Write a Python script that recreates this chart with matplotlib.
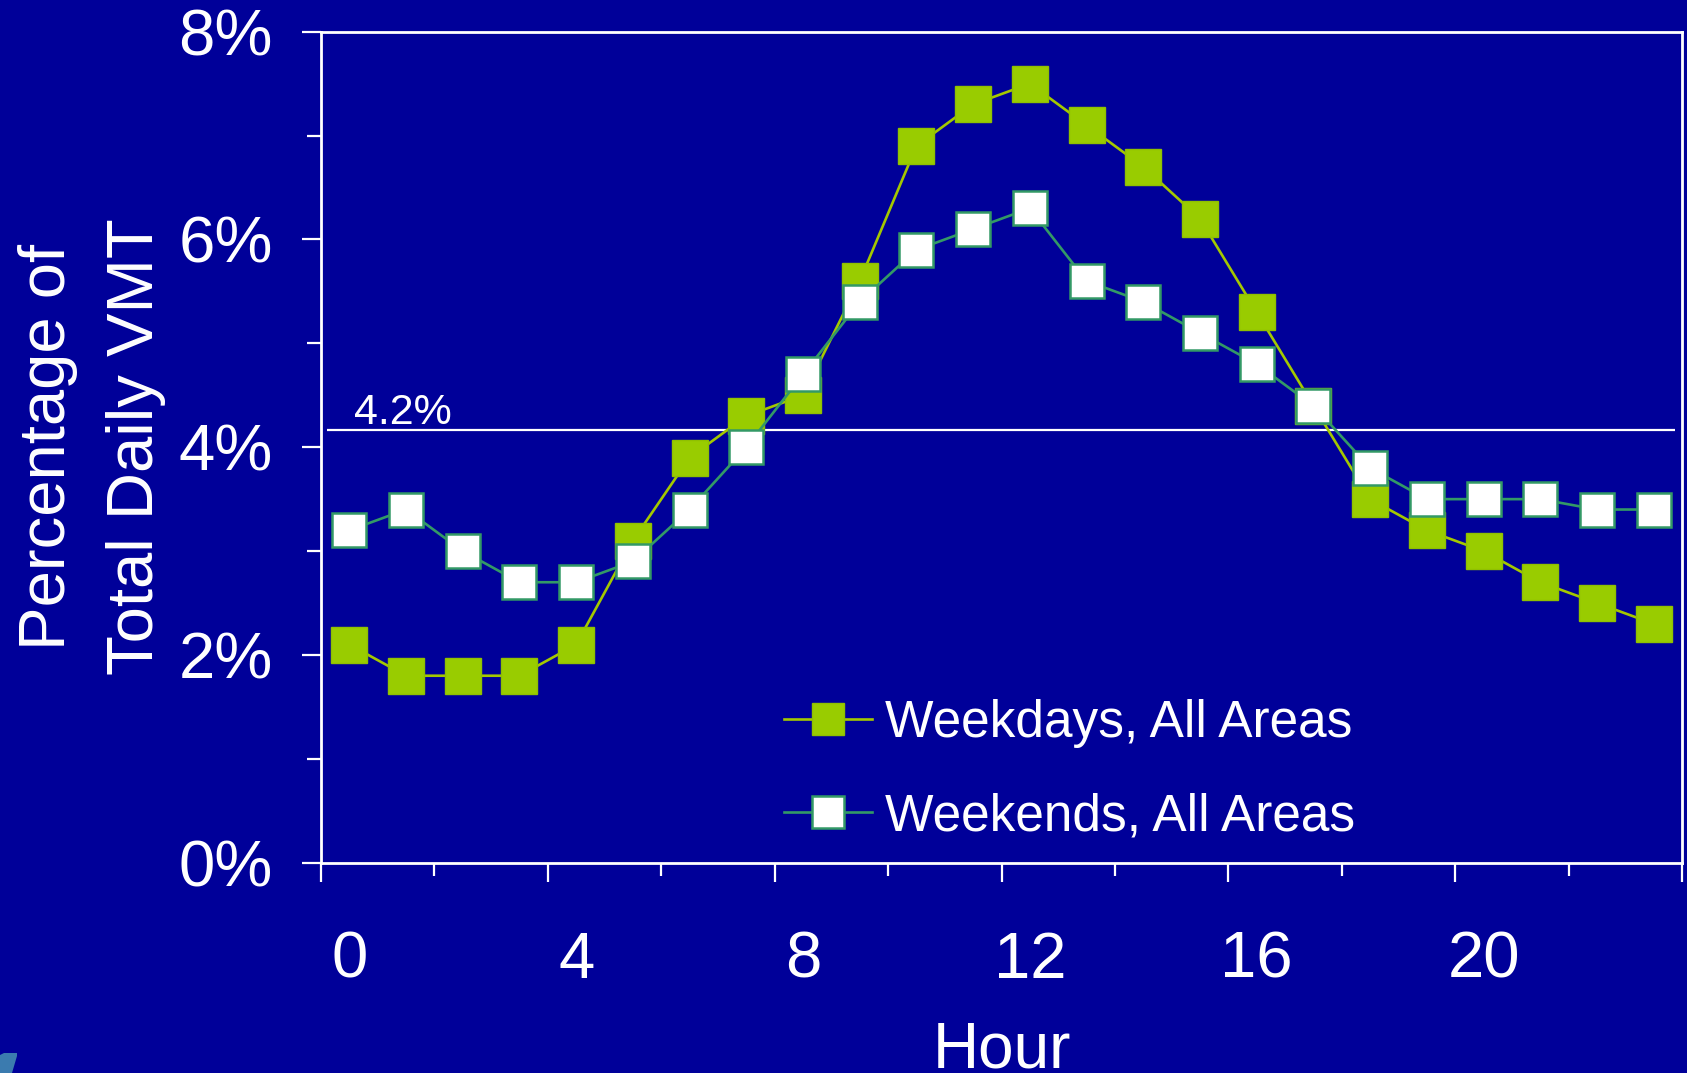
import numpy as np
import matplotlib
matplotlib.use("Agg")
import matplotlib.pyplot as plt
from matplotlib.patches import Polygon
from matplotlib.ticker import FixedLocator

# Hourly share of total daily vehicle miles travelled (%)
hours = list(range(24))
weekday_share = [2.1, 1.8, 1.8, 1.8, 2.1, 3.1, 3.9, 4.3, 4.5, 5.6, 6.9, 7.3,
                 7.5, 7.1, 6.7, 6.2, 5.3, 4.4, 3.5, 3.2, 3.0, 2.7, 2.5, 2.3]
weekend_share = [3.2, 3.4, 3.0, 2.7, 2.7, 2.9, 3.4, 4.0, 4.7, 5.4, 5.9, 6.1,
                 6.3, 5.6, 5.4, 5.1, 4.8, 4.4, 3.8, 3.5, 3.5, 3.5, 3.4, 3.4]
series_names = ["Weekdays, All Areas", "Weekends, All Areas"]

label_hours = [0, 4, 8, 12, 16, 20]
hour_labels = ["0", "4", "8", "12", "16", "20"]
y_ticks = [0, 2, 4, 6, 8]
y_labels = ["0%", "2%", "4%", "6%", "8%"]

# a flat profile spreads travel evenly over the day
average_share = 100 / len(hours)

BG = "#000099"
WD_FILL = "#99CC00"
WD_LINE = "#A4C800"
WE_EDGE = "#339966"
FG = "white"

plt.rcParams["font.family"] = ["Liberation Sans", "DejaVu Sans"]

W, H = 1687, 1073
fig = plt.figure(figsize=(W / 100, H / 100), dpi=100, facecolor=BG)
ax = fig.add_axes([321 / W, 1 - 862.7 / H, (1682 - 321) / W, (862.7 - 31.7) / H],
                  facecolor=BG)

ax.plot(hours, weekday_share, color=WD_LINE, lw=1.9, marker="s", ms=26,
        mfc=WD_FILL, mec="#8FC000", mew=1.0, label=series_names[0], zorder=3)
ax.plot(hours, weekend_share, color=WE_EDGE, lw=1.9, marker="s", ms=25,
        mfc="white", mec=WE_EDGE, mew=1.8, label=series_names[1], zorder=4)

# average reference line
ax.hlines(average_share, -0.4, 23.38, colors=FG, lw=1.6, zorder=2)
ax.annotate(f"{average_share:.1f}%", xy=(0.075, average_share), xytext=(0, 4.3),
            textcoords="offset points", ha="left", va="baseline",
            color=FG, fontsize=31)

ax.set_xlim(-0.5, 23.5)
ax.set_ylim(0, 8)
for s in ax.spines.values():
    s.set_color(FG)
    s.set_linewidth(2)

# y axis
ax.set_yticks(y_ticks)
ax.set_yticklabels(y_labels)
ax.yaxis.set_minor_locator(FixedLocator([1, 3, 5, 7]))
ax.tick_params(axis="y", which="major", direction="out", length=13.7, width=1.6,
               color=FG, labelcolor=FG, labelsize=47, pad=21)
ax.tick_params(axis="y", which="minor", direction="out", length=10, width=1.6,
               color=FG)

# x axis: tick marks sit on category boundaries, labels on category centres
ax.xaxis.set_major_locator(FixedLocator(np.arange(-0.5, 24, 4)))
ax.xaxis.set_minor_locator(FixedLocator(np.arange(1.5, 24, 4)))
ax.tick_params(axis="x", which="major", direction="out", length=13.9, width=1.6,
               color=FG, labelbottom=False)
ax.tick_params(axis="x", which="minor", direction="out", length=9.6, width=1.6,
               color=FG)

sec = ax.secondary_xaxis("bottom")
sec.set_xticks(label_hours, hour_labels)
sec.tick_params(length=0, pad=49, labelsize=47, labelcolor=FG)
sec.spines["bottom"].set_visible(False)

# axis titles
fig.text(65 / W, 1 - 447 / H, "Percentage of", rotation=90, rotation_mode="anchor",
         ha="center", va="baseline", fontsize=47, color=FG)
fig.text(153 / W, 1 - 447 / H, "Total Daily VMT", rotation=90, rotation_mode="anchor",
         ha="center", va="baseline", fontsize=47, color=FG)
fig.text(1001.6 / W, 6 / H, "Hour", ha="center", va="baseline", fontsize=46, color=FG)

leg = ax.legend(loc="center left", bbox_to_anchor=(783.7 / W, 1 - 770 / H),
                bbox_transform=fig.transFigure, frameon=False, fontsize=37,
                handlelength=1.71, handletextpad=0.27, labelspacing=0.86,
                borderpad=0, borderaxespad=0, labelcolor=FG)
for h in leg.legend_handles:
    h.set_markersize(23)

# corner mark
corner = [(0, 1055), (4, 1053), (17, 1053), (17, 1056), (12, 1073), (0, 1073)]
fig.add_artist(Polygon([(x / W, 1 - y / H) for x, y in corner], closed=True,
                       transform=fig.transFigure, facecolor="#3B7BAF",
                       edgecolor="none"))

fig.savefig("out.png", dpi=100, facecolor=BG)
